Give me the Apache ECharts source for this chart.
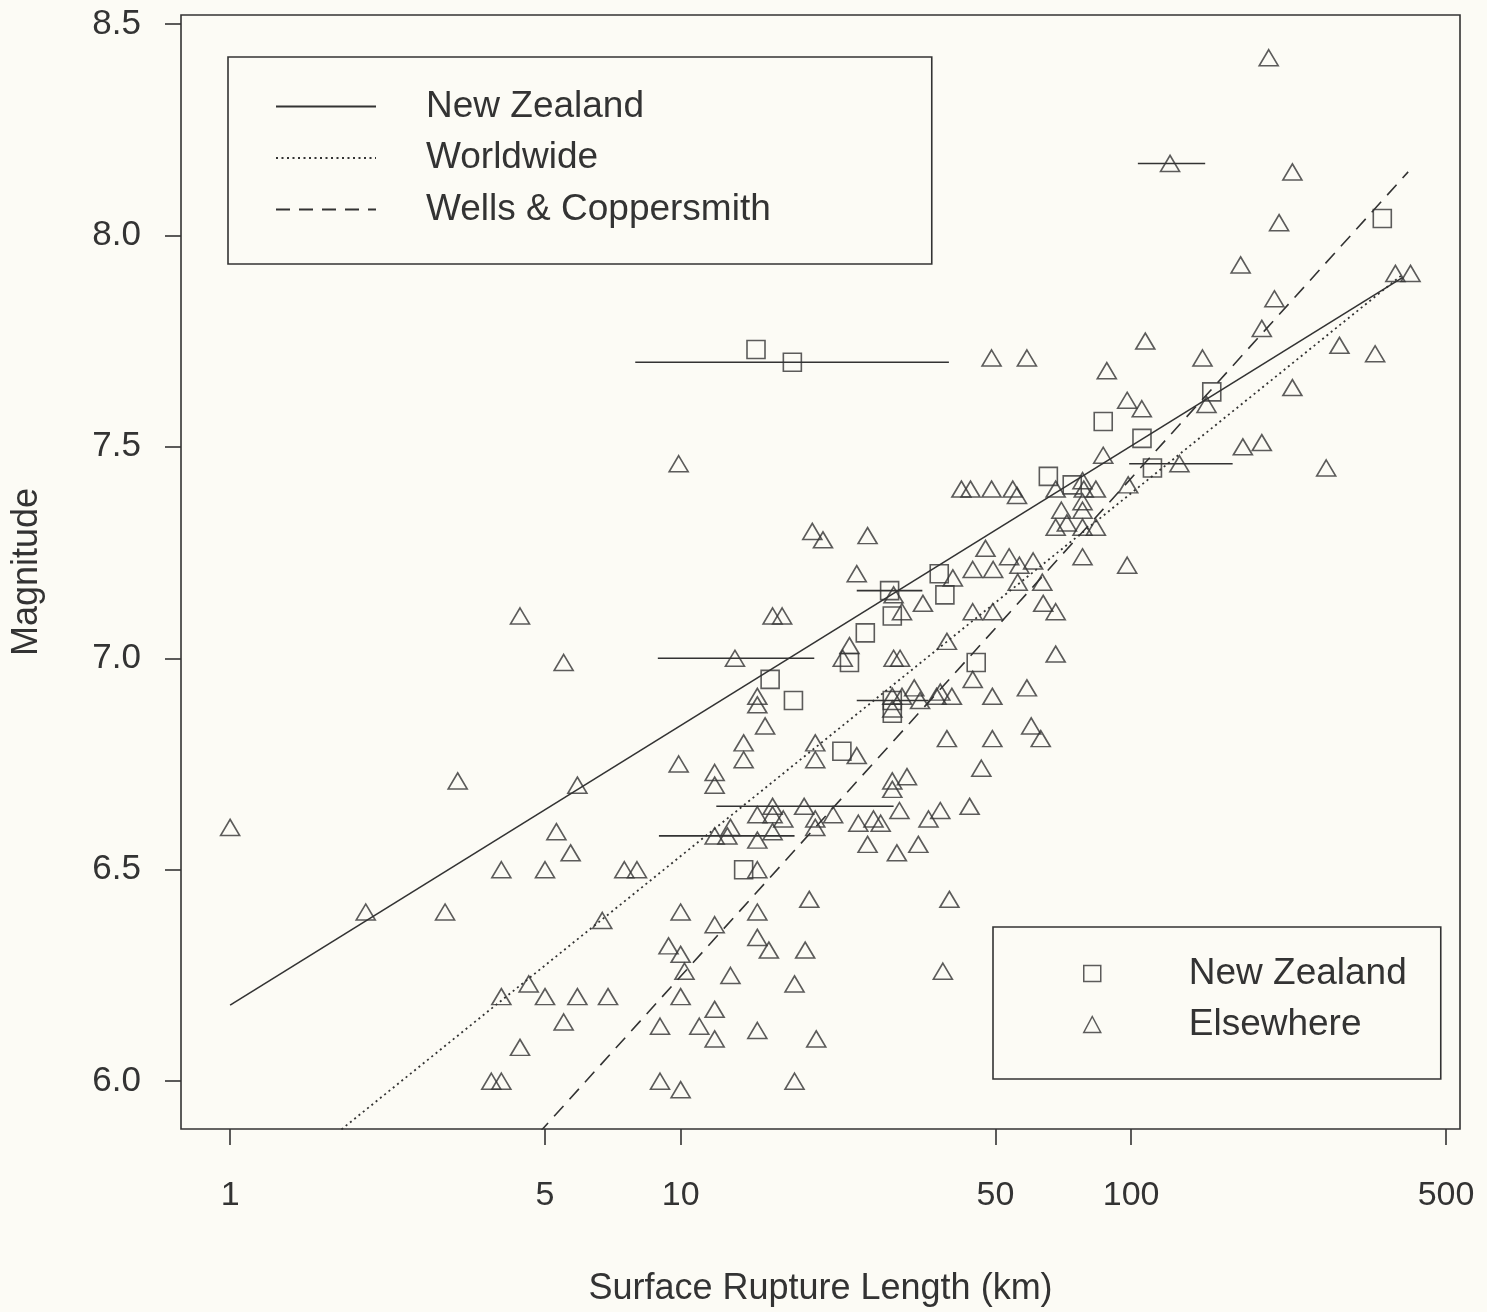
<!DOCTYPE html>
<html>
<head>
<meta charset="utf-8">
<script src="https://cdn.jsdelivr.net/npm/echarts@6/dist/echarts.min.js"></script>
<style>
html,body{margin:0;padding:0;background:#fcfbf5;}
#chart{width:1487px;height:1312px;}
</style>
</head>
<body>
<div id="chart"></div>
<script>
// ---- data (L = rupture length km, M = magnitude) ----
const nzL = [14.7, 17.7, 86.7, 105.7, 111.5, 151, 361, 65.5, 74.0, 37.5, 38.6, 29.1, 29.5, 25.7, 23.7, 45.3, 15.8, 17.8, 22.8, 13.8, 29.5, 29.5];
const nzM = [7.73, 7.70, 7.56, 7.52, 7.45, 7.63, 8.04, 7.43, 7.41, 7.20, 7.15, 7.16, 7.10, 7.06, 6.99, 6.99, 6.95, 6.90, 6.78, 6.50, 6.90, 6.87];

const elL = [1.0, 2.0, 3.0, 3.2, 4.4, 5.5, 5.9, 5.3, 5.7, 4.0, 5.0, 6.7, 7.5, 8.0, 4.6, 4.0, 5.0, 5.9, 6.9, 5.5, 4.4, 3.8, 4.0, 9.9,
  19.6, 20.7, 26.0, 24.6, 29.7, 34.5, 40.2, 31.0, 16.0, 16.8, 13.2, 23.7, 22.9, 29.7, 30.7, 39.0,
  14.8, 14.8, 15.4, 13.8, 13.8, 9.9, 11.9, 11.9, 19.9, 19.9, 24.6, 39.0,
  29.5, 29.5, 31.0, 33.0, 34.0, 37.0, 37.7, 40.0,
  31.8, 29.5, 29.5,
  18.8, 14.8, 16.0, 16.0, 16.9, 19.9, 19.9, 21.8, 24.8, 26.8, 27.8, 30.6, 35.5, 37.7,
  12.7, 11.9, 12.9, 14.8, 16.0, 26.0, 30.2, 33.7,
  14.8, 19.3, 39.5, 10.0, 11.9, 14.8, 14.8, 15.7, 18.9, 9.4, 10.0, 10.2, 12.9, 38.2, 17.9, 10.0, 11.9, 9.0, 11.0, 11.9, 14.8, 20.0, 9.0, 10.0, 17.9,
  44.5, 49.2, 58.7, 60.0, 63.0, 49.2, 46.5, 43.8,
  47.5, 44.5, 49.4, 53.6, 56.5, 60.6, 56.0, 63.5, 44.5, 49.3, 63.8, 68.0, 68.0,
  70.0, 78.0, 78.0, 68.0, 72.0, 78.0, 83.5, 98.0, 78.0,
  42.0, 44.0, 49.0, 54.6, 55.8, 68.0, 78.0, 78.5, 83.5, 98.5,
  49.0, 58.7, 107.5, 88.3, 98.0, 105.6, 86.7, 128, 202, 122, 228, 213, 175, 386, 417, 208, 195, 144, 290, 348, 228, 147, 177, 195, 271];
const elM = [6.60, 6.40, 6.40, 6.71, 7.10, 6.99, 6.70, 6.59, 6.54, 6.50, 6.50, 6.38, 6.50, 6.50, 6.23, 6.20, 6.20, 6.20, 6.20, 6.14, 6.08, 6.00, 6.00, 7.46,
  7.30, 7.28, 7.29, 7.20, 7.15, 7.13, 7.19, 7.11, 7.10, 7.10, 7.00, 7.03, 7.00, 7.00, 7.00, 7.04,
  6.91, 6.89, 6.84, 6.80, 6.76, 6.75, 6.73, 6.70, 6.80, 6.76, 6.77, 6.81,
  6.91, 6.88, 6.91, 6.93, 6.90, 6.91, 6.92, 6.91,
  6.72, 6.71, 6.69,
  6.65, 6.63, 6.65, 6.63, 6.62, 6.62, 6.60, 6.63, 6.61, 6.62, 6.61, 6.64, 6.62, 6.64,
  6.58, 6.58, 6.60, 6.57, 6.59, 6.56, 6.54, 6.56,
  6.50, 6.43, 6.43, 6.40, 6.37, 6.40, 6.34, 6.31, 6.31, 6.32, 6.30, 6.26, 6.25, 6.26, 6.23, 6.20, 6.17, 6.13, 6.13, 6.10, 6.12, 6.10, 6.00, 5.98, 6.00,
  6.95, 6.91, 6.93, 6.84, 6.81, 6.81, 6.74, 6.65,
  7.26, 7.21, 7.21, 7.24, 7.22, 7.23, 7.18, 7.18, 7.11, 7.11, 7.13, 7.11, 7.01,
  7.35, 7.37, 7.35, 7.31, 7.32, 7.31, 7.31, 7.22, 7.24,
  7.40, 7.40, 7.40, 7.40, 7.385, 7.40, 7.42, 7.40, 7.40, 7.41,
  7.71, 7.71, 7.75, 7.68, 7.61, 7.59, 7.48, 7.46, 8.42, 8.17, 8.15, 8.03, 7.93, 7.91, 7.91, 7.85, 7.78, 7.71, 7.74, 7.72, 7.64, 7.60, 7.50, 7.51, 7.45];

// horizontal range bars: centre L, M, and range limits
const barL  = [17.7, 29.1, 13.2, 29.5, 18.8, 12.7, 128, 122];
const barM  = [7.70, 7.16, 7.00, 6.90, 6.65, 6.58, 7.46, 8.17];
const barLo = [7.93, 24.6, 8.9, 24.6, 12.0, 8.95, 99, 103.5];
const barHi = [39.4, 34.4, 19.8, 35.5, 29.7, 17.9, 168, 146];

// regression lines (end points)
const nzFitL = [1, 400];   const nzFitM = [6.18, 7.90];
const wwFitL = [1, 400];   const wwFitM = [5.674, 7.907];
const wcFitL = [1, 412];   const wcFitM = [5.07, 8.15];

const xTicks = [1, 5, 10, 50, 100, 500];
const yTicks = [6.0, 6.5, 7.0, 7.5, 8.0, 8.5];

// ---- chart ----
const lg = Math.log10;
const INK = '#333';
const FONT = '"Liberation Sans", Arial, Helvetica, sans-serif';
const pts = (L, M) => L.map((l, i) => [lg(l), M[i]]);

const chart = echarts.init(document.getElementById('chart'), null, {renderer: 'canvas'});
chart.setOption({
  backgroundColor: '#fcfbf5',
  animation: false,
  color: [INK],
  textStyle: {fontFamily: FONT, color: INK},
  grid: {left: 181, top: 15, width: 1279, height: 1117, show: true,
         borderColor: INK, borderWidth: 1.6, backgroundColor: 'transparent'},
  xAxis: {
    type: 'value', min: lg(0.778), max: lg(537),
    name: 'Surface Rupture Length (km)', nameLocation: 'middle', nameGap: 142,
    nameTextStyle: {fontSize: 36, color: INK, fontFamily: FONT},
    axisLine: {show: false, onZero: false},
    splitLine: {show: false},
    axisTick: {show: true, length: 16, lineStyle: {color: INK, width: 1.6}, customValues: xTicks.map(lg)},
    axisLabel: {show: true, margin: 50, fontSize: 34, color: INK, fontFamily: FONT,
                customValues: xTicks.map(lg),
                formatter: v => String(Math.round(Math.pow(10, v)))}
  },
  yAxis: {
    type: 'value', min: 5.887, max: 8.521,
    name: 'Magnitude', nameLocation: 'middle', nameGap: 136, nameRotate: 90,
    nameTextStyle: {fontSize: 36, color: INK, fontFamily: FONT},
    axisLine: {show: false, onZero: false},
    splitLine: {show: false},
    axisTick: {show: true, length: 16, lineStyle: {color: INK, width: 1.6}, customValues: yTicks},
    axisLabel: {show: true, margin: 40, fontSize: 35, color: INK, fontFamily: FONT,
                customValues: yTicks, formatter: v => v.toFixed(1)}
  },
  legend: [
    {
      data: ['NZ fit', 'Worldwide', 'Wells & Coppersmith'],
      formatter: n => n === 'NZ fit' ? 'New Zealand' : n,
      orient: 'vertical', left: 228, top: 57,
      padding: [31, 161, 36, 47], itemGap: 14.5,
      itemWidth: 100, itemHeight: 14,
      borderColor: INK, borderWidth: 1.6, backgroundColor: 'transparent',
      selectedMode: false,
      itemStyle: {opacity: 0},
      textStyle: {fontSize: 37, lineHeight: 36, color: INK, fontFamily: FONT, padding: [0, 0, 0, 45]}
    },
    {
      data: ['New Zealand', 'Elsewhere'],
      orient: 'vertical', left: 993, top: 927,
      padding: [28, 34, 36, 90], itemGap: 14,
      itemWidth: 17, itemHeight: 16,
      borderColor: INK, borderWidth: 1.6, backgroundColor: 'transparent',
      selectedMode: false,
      itemStyle: {color: 'rgba(0,0,0,0)', borderColor: INK, borderWidth: 1.5},
      textStyle: {fontSize: 37, lineHeight: 36, color: INK, fontFamily: FONT, padding: [0, 0, 0, 83]}
    }
  ],
  series: [
    {name: 'NZ fit', type: 'line', data: pts(nzFitL, nzFitM), symbol: 'none', clip: true, silent: true,
     itemStyle: {color: INK}, lineStyle: {color: INK, width: 1.6, type: 'solid'}, z: 3},
    {name: 'Worldwide', type: 'line', data: pts(wwFitL, wwFitM), symbol: 'none', clip: true, silent: true,
     itemStyle: {color: INK}, lineStyle: {color: INK, width: 1.8, type: [2, 3.5]}, z: 3},
    {name: 'Wells & Coppersmith', type: 'line', data: pts(wcFitL, wcFitM), symbol: 'none', clip: true, silent: true,
     itemStyle: {color: INK}, lineStyle: {color: INK, width: 1.6, type: [14, 9]}, z: 3},
    {name: 'range', type: 'custom', silent: true, z: 3,
     data: barL.map((l, i) => [lg(l), barM[i], lg(barLo[i]), lg(barHi[i])]),
     encode: {x: [0, 2, 3], y: 1},
     renderItem: (params, api) => {
       const a = api.coord([api.value(2), api.value(1)]);
       const b = api.coord([api.value(3), api.value(1)]);
       return {type: 'line', shape: {x1: a[0], y1: a[1], x2: b[0], y2: b[1]},
               style: {stroke: INK, lineWidth: 1.6}};
     }},
    {name: 'New Zealand', type: 'scatter', data: pts(nzL, nzM), symbol: 'rect', symbolSize: 18,
     itemStyle: {color: 'rgba(0,0,0,0)', borderColor: INK, borderWidth: 1.6}, z: 4},
    {name: 'Elsewhere', type: 'scatter', data: pts(elL, elM), symbol: 'triangle', symbolSize: [19, 16],
     itemStyle: {color: 'rgba(0,0,0,0)', borderColor: INK, borderWidth: 1.6}, z: 4}
  ]
});
</script>
</body>
</html>
